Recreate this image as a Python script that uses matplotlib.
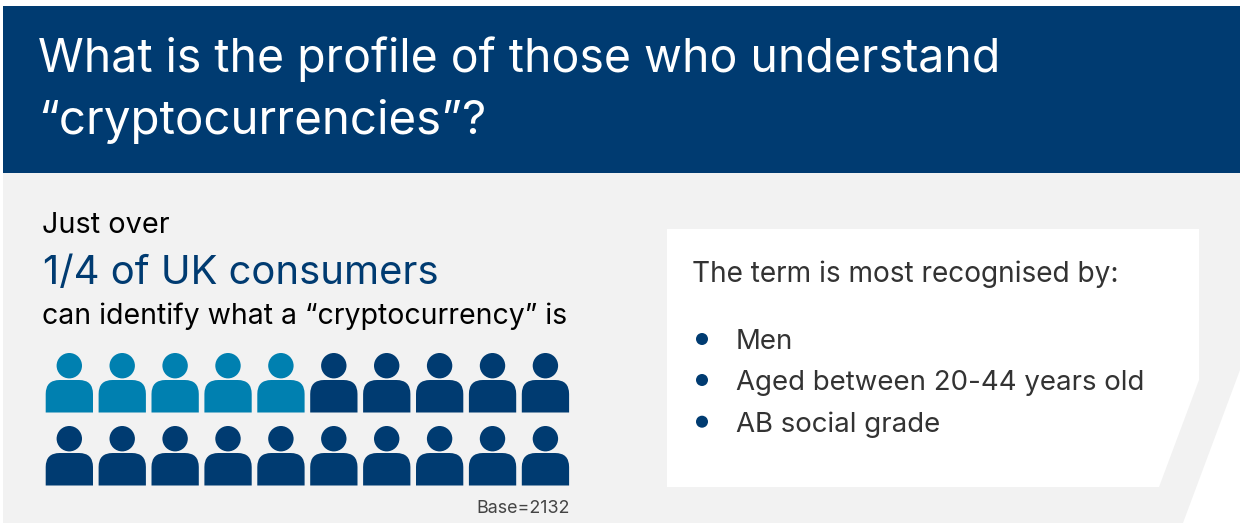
import matplotlib
matplotlib.use("Agg")
import matplotlib.pyplot as plt
from matplotlib.patches import Polygon, Rectangle, Circle, PathPatch
from matplotlib.path import Path

navy = "#003b71"
teal = "#0080b0"
grey = "#f2f2f2"

title_lines = ["What is the profile of those who understand", "“cryptocurrencies”?"]
intro = "Just over"
headline = "1/4 of UK consumers"
subline = "can identify what a “cryptocurrency” is"
panel_head = "The term is most recognised by:"
bullets = ["Men", "Aged between 20-44 years old", "AB social grade"]
base_note = "Base=2132"

people_total = 20
people_highlight = 5
people_per_row = 10

plt.rcParams["font.family"] = ["Inter", "DejaVu Sans"]

fig = plt.figure(figsize=(12.46, 5.23), dpi=100)
ax = fig.add_axes([0, 0, 1, 1])
ax.set_xlim(0, 1246)
ax.set_ylim(523, 0)
ax.axis("off")

# background blocks
ax.add_patch(Rectangle((3, 173), 1237, 350, fc=grey, ec="none"))
ax.add_patch(Rectangle((3, 6), 1237, 167, fc=navy, ec="none"))
ax.add_patch(Polygon([(667, 229), (1199, 229), (1199, 380), (1159, 487), (667, 487)], fc="white", ec="none"))
ax.add_patch(Polygon([(1240, 370), (1246, 370), (1246, 523), (1183, 523)], fc="white", ec="none"))

# title
for txt, y, size in zip(title_lines, [72, 134], [33.4, 34.2]):
    ax.text(38, y, txt, color="white", fontsize=size, va="baseline", ha="left")

ax.text(42, 232.7, intro, fontsize=20.8, color="black", va="baseline")
ax.text(43, 284.5, headline, fontsize=28.8, color=navy, va="baseline")
ax.text(42, 324, subline, fontsize=20.5, color="black", va="baseline")


def person(x, y, color):
    # x, y = top left of the body
    w, h, r = 47.3, 32.5, 14
    ax.add_patch(Circle((x + 23.6, y - 14.3), 12.7, fc=color, ec="none"))
    verts = [(x, y + h), (x, y + r), (x, y), (x + r, y), (x + w - r, y),
             (x + w, y), (x + w, y + r), (x + w, y + h), (x, y + h)]
    codes = [Path.MOVETO, Path.LINETO, Path.CURVE3, Path.CURVE3, Path.LINETO,
             Path.CURVE3, Path.CURVE3, Path.LINETO, Path.CLOSEPOLY]
    ax.add_patch(PathPatch(Path(verts, codes), fc=color, ec="none"))


for i in range(people_total):
    row = i // people_per_row
    col = i % people_per_row
    color = teal if i < people_highlight else navy
    person(45.7 + col * 52.9, 380 + row * 73, color)

ax.text(570, 513, base_note, fontsize=12.9, color="#444444", va="baseline", ha="right")

ax.text(692, 281.7, panel_head, fontsize=20.2, color="#333333", va="baseline")
for txt, y in zip(bullets, [339, 380, 421.7]):
    ax.add_patch(Circle((702, y), 6, fc=navy, ec="none"))
    ax.text(736, y + 10, txt, fontsize=19.9, color="#333333", va="baseline")

fig.savefig("out.png", dpi=100)
